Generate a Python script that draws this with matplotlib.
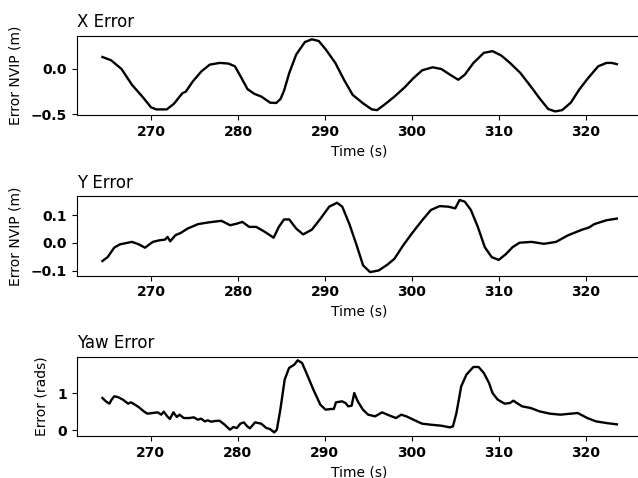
import numpy as np
import matplotlib
matplotlib.use("Agg")
import matplotlib.pyplot as plt

# X error trace (time s, error m)
x_t = [264.4, 265.4, 266.6, 267.8, 269.0, 270.0, 270.6, 271.8, 272.6, 273.6,
       274.0, 274.8, 275.8, 276.75, 277.9, 278.9, 279.65, 280.3, 281.1, 281.9,
       282.7, 283.7, 284.4, 284.9, 285.3, 285.9, 286.7, 287.7, 288.5, 289.3, 290.1,
       291.2, 292.2, 293.2, 294.4, 295.4, 296.0, 296.8, 298.0, 299.2, 300.2,
       301.2, 302.4, 303.4, 304.4, 305.35, 306.1, 307.1, 308.3, 309.3, 310.3,
       311.3, 312.5, 313.7, 314.7, 315.7, 316.5, 317.3, 318.3, 319.25, 320.2,
       321.45, 322.4, 323.0, 323.6]
x_err = [0.13, 0.094, -0.002, -0.175, -0.305, -0.423, -0.445, -0.445, -0.386, -0.268,
         -0.25, -0.138, -0.027, 0.046, 0.065, 0.058, 0.028, -0.083, -0.223, -0.275,
         -0.305, -0.371, -0.375, -0.33, -0.24, -0.046, 0.157, 0.294, 0.324, 0.305, 0.213,
         0.065, -0.12, -0.286, -0.379, -0.445, -0.453, -0.397, -0.305, -0.201, -0.101,
         -0.016, 0.017, -0.002, -0.064, -0.12, -0.064, 0.065, 0.176, 0.194, 0.146,
         0.065, -0.046, -0.194, -0.323, -0.441, -0.467, -0.453, -0.371, -0.23, -0.112,
         0.028, 0.065, 0.065, 0.052]

# Y error trace
y_t = [264.4, 265.0, 265.4, 265.75, 266.4, 267.8, 268.6, 269.3, 270.2, 271.0,
       271.6, 271.9, 272.2, 272.8, 273.4, 274.2, 275.4, 276.55, 278.1, 279.1,
       279.9, 280.5, 281.3, 282.1, 283.1, 284.1, 284.7, 285.3, 285.9, 286.7,
       287.5, 288.5, 289.5, 290.5, 291.4, 292.0, 292.8, 293.6, 294.4, 295.2,
       296.2, 297.2, 298.0, 299.0, 300.0, 301.2, 302.2, 303.2, 304.2, 305.0,
       305.5, 306.1, 306.8, 307.6, 308.4, 309.2, 310.0, 310.8, 311.6, 312.4,
       313.8, 315.2, 316.6, 318.0, 319.6, 320.4, 321.0, 322.4, 323.6]
y_err = [-0.065, -0.051, -0.033, -0.017, -0.005, 0.004, -0.005, -0.017, 0.004, 0.010,
         0.012, 0.022, 0.006, 0.028, 0.036, 0.052, 0.068, 0.074, 0.080, 0.064,
         0.070, 0.076, 0.058, 0.058, 0.040, 0.019, 0.058, 0.085, 0.085, 0.052,
         0.031, 0.048, 0.088, 0.131, 0.145, 0.131, 0.070, -0.003, -0.081, -0.105,
         -0.099, -0.078, -0.057, -0.009, 0.034, 0.082, 0.119, 0.133, 0.131, 0.125,
         0.155, 0.149, 0.119, 0.058, -0.015, -0.051, -0.061, -0.041, -0.015, 0.001,
         0.004, -0.003, 0.004, 0.028, 0.048, 0.056, 0.068, 0.082, 0.088]

# Yaw error trace (rads)
yaw_t = [264.44, 264.84, 265.24, 265.5, 265.8, 266.2, 266.8, 267.4, 267.7, 268.0,
         268.6, 269.2, 269.6, 270.2, 270.8, 271.2, 271.5, 271.9, 272.2, 272.6,
         273.0, 273.3, 273.8, 274.4, 274.96, 275.4, 275.8, 276.2, 276.55, 276.95,
         277.4, 277.9, 278.5, 279.1, 279.5, 279.9, 280.3, 280.7, 281.1, 281.4,
         282.0, 282.7, 283.3, 283.7, 284.2, 284.5, 284.9, 285.4, 285.9, 286.5,
         286.9, 287.4, 287.9, 288.7, 289.5, 290.1, 290.7, 291.05, 291.3, 292.0,
         292.4, 292.7, 293.1, 293.4, 293.8, 294.4, 295.0, 295.8, 296.6, 297.4,
         298.2, 298.8, 299.4, 300.2, 301.2, 302.2, 303.4, 304.4, 304.75, 305.15,
         305.7, 306.3, 307.1, 307.7, 308.3, 308.9, 309.3, 309.9, 310.7, 311.3,
         311.7, 312.1, 312.7, 313.7, 314.7, 315.9, 317.1, 318.3, 319.1, 320.2,
         321.2, 322.4, 323.6]
yaw_err = [0.867, 0.778, 0.716, 0.823, 0.912, 0.894, 0.823, 0.716, 0.751, 0.716,
           0.626, 0.510, 0.448, 0.465, 0.483, 0.421, 0.501, 0.376, 0.305, 0.483,
           0.358, 0.421, 0.331, 0.331, 0.349, 0.287, 0.314, 0.242, 0.269, 0.233,
           0.251, 0.260, 0.153, 0.019, 0.090, 0.063, 0.180, 0.215, 0.108, 0.055,
           0.215, 0.180, 0.063, 0.037, -0.053, 0.019, 0.555, 1.359, 1.671, 1.760,
           1.877, 1.805, 1.537, 1.091, 0.689, 0.555, 0.573, 0.573, 0.751, 0.778,
           0.733, 0.644, 0.662, 1.001, 0.778, 0.555, 0.421, 0.376, 0.483, 0.403,
           0.331, 0.421, 0.376, 0.287, 0.180, 0.153, 0.126, 0.081, 0.108, 0.465,
           1.180, 1.493, 1.698, 1.698, 1.537, 1.269, 1.001, 0.823, 0.716, 0.733,
           0.796, 0.733, 0.644, 0.599, 0.510, 0.448, 0.421, 0.448, 0.465, 0.331,
           0.242, 0.197, 0.162]

panels = [
    ("X Error", "Error NVIP (m)", x_t, x_err, [-0.5, 0.0]),
    ("Y Error", "Error NVIP (m)", y_t, y_err, [-0.1, 0.0, 0.1]),
    ("Yaw Error", "Error (rads)", yaw_t, yaw_err, [0, 1]),
]

fig = plt.figure(figsize=(6.38, 4.78), dpi=100)

# axes run slightly past the right edge, like the original crop
bottoms = [0.7594, 0.4232, 0.0879]
for (title, ylabel, t, e, yt), b in zip(panels, bottoms):
    ax = fig.add_axes([0.1202, b, 0.887, 0.1659])
    ax.plot(t, e, color='k', linewidth=1.7)
    ax.set_title(title, loc='left', fontsize=12)
    ax.set_ylabel(ylabel, fontsize=10, labelpad=6)
    ax.set_xlabel('Time (s)', fontsize=10)
    ax.set_xticks([270, 280, 290, 300, 310, 320])
    ax.set_yticks(yt)
    for lbl in ax.get_xticklabels() + ax.get_yticklabels():
        lbl.set_fontweight('bold')

plt.savefig('out.png', dpi=100)
